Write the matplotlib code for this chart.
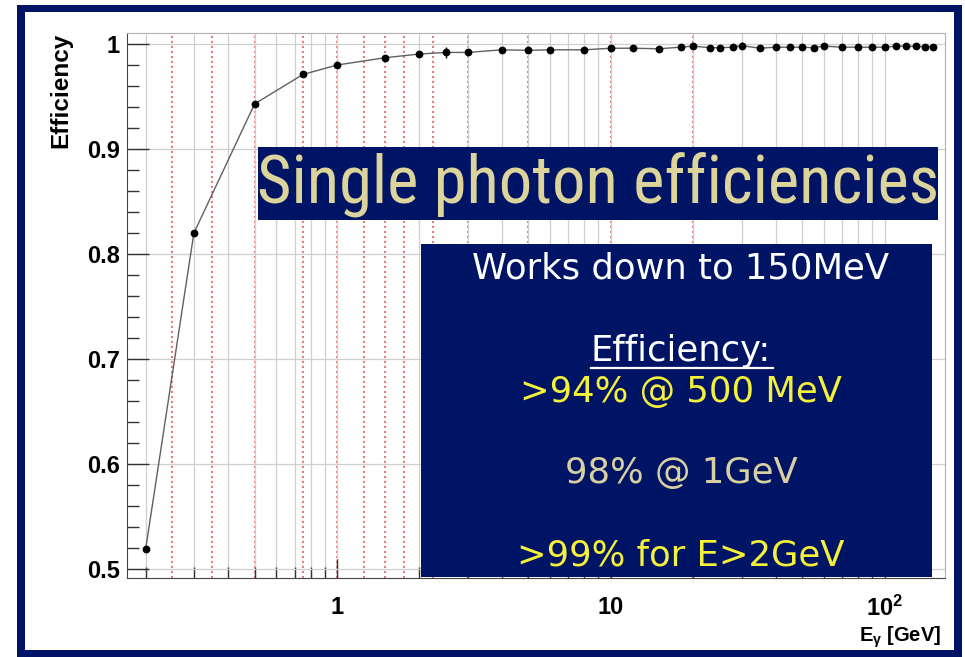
import matplotlib
matplotlib.use('Agg')
import matplotlib.pyplot as plt
from matplotlib import font_manager
from matplotlib.patches import Rectangle
from matplotlib.ticker import LogLocator, NullFormatter
from matplotlib.lines import Line2D

# photon energy [GeV] and single photon efficiency
energy = [0.2, 0.3, 0.5, 0.75, 1, 1.5, 2, 2.5, 3, 4, 5, 6, 8, 10, 12, 15, 18, 20,
          23, 25, 28, 30, 35, 40, 45, 50, 55, 60, 70, 80, 90, 100, 110, 120, 130, 140, 150]
efficiency = [0.519, 0.820, 0.943, 0.971, 0.980, 0.987, 0.9905, 0.992, 0.992, 0.9945,
              0.994, 0.9945, 0.9945, 0.996, 0.996, 0.9955, 0.997, 0.998,
              0.9965, 0.9965, 0.997, 0.9985, 0.996, 0.997, 0.997, 0.997, 0.9965, 0.998,
              0.997, 0.997, 0.997, 0.997, 0.998, 0.9978, 0.9978, 0.9975, 0.9975]
eff_err = [0.002, 0.003, 0.002, 0.002, 0.002, 0.002, 0.002, 0.005, 0.002, 0.002,
           0.002, 0.002, 0.002, 0.002, 0.002, 0.002, 0.002, 0.002,
           0.002, 0.002, 0.002, 0.003, 0.002, 0.002, 0.002, 0.002, 0.002, 0.002,
           0.002, 0.002, 0.002, 0.002, 0.002, 0.003, 0.002, 0.003, 0.002]

red_lines = [0.25, 0.35, 0.5, 0.75, 1, 1.25, 1.5, 1.75, 2.25, 3, 5, 10, 20]

y_ticks = [0.5, 0.6, 0.7, 0.8, 0.9, 1.0]
y_tick_labels = ['0.5', '0.6', '0.7', '0.8', '0.9', '1']
x_ticks = [1, 10, 100]
x_tick_labels = ['1', '10', r'$\mathbf{10^{2}}$']

title = 'Single photon efficiencies'
box_lines = ['Works down to 150MeV', 'Efficiency:', '>94% @ 500 MeV', '98% @ 1GeV', '>99% for E>2GeV']

plt.rcParams['mathtext.fontset'] = 'custom'
plt.rcParams['mathtext.rm'] = 'Liberation Sans'
plt.rcParams['mathtext.bf'] = 'Liberation Sans:bold'
plt.rcParams['mathtext.it'] = 'Liberation Sans:bold'

# a narrow sans fits the banner best, if one is around
names = {f.name for f in font_manager.fontManager.ttflist}
title_font, title_size = 'Liberation Sans', 43
for cand, size in [('Liberation Sans Narrow', 50), ('Roboto Condensed', 48)]:
    if cand in names:
        title_font, title_size = cand, size
        break

W, H = 965, 657
navy = '#001466'

fig = plt.figure(figsize=(W / 100, H / 100), dpi=100)
fig.patch.set_facecolor('white')


def box(x0, y0, x1, y1, color, z=10):
    # rectangle given in picture pixels (y down)
    fig.add_artist(Rectangle((x0 / W, 1 - y1 / H), (x1 - x0) / W, (y1 - y0) / H,
                             transform=fig.transFigure, facecolor=color,
                             edgecolor='none', zorder=z))


ax = fig.add_axes([127 / W, 1 - 578 / H, (945 - 127) / W, (578 - 33) / H])
ax.set_xscale('log')
ax.set_xlim(0.171, 166)
ax.set_ylim(0.4917, 1.0105)

# grid
ax.grid(True, which='both', axis='x', color='#cfcfcf', lw=0.9, zorder=0)
ax.grid(True, which='major', axis='y', color='#cfcfcf', lw=0.9, zorder=0)
for xv in red_lines:
    ax.axvline(xv, color='#e05050', ls=(0, (1, 1.4)), lw=1.5, alpha=0.75, zorder=1)

ax.plot(energy, efficiency, color='#606060', lw=1.0, zorder=3)
ax.errorbar(energy, efficiency, yerr=eff_err, fmt='o', color='black', ms=4.6,
            elinewidth=1.0, capsize=0, zorder=4)

ax.set_yticks(y_ticks)
ax.set_yticklabels(y_tick_labels)
ax.set_yticks([0.5 + 0.02 * i for i in range(26)], minor=True)
ax.set_xticks(x_ticks)
ax.set_xticklabels(x_tick_labels)
ax.xaxis.set_minor_locator(LogLocator(base=10, subs=range(2, 10), numticks=20))
ax.xaxis.set_minor_formatter(NullFormatter())

ax.tick_params(axis='y', which='major', direction='in', length=16, width=1, color='#333333',
               pad=5, labelsize=17)
ax.tick_params(axis='y', which='minor', direction='in', length=8.5, width=1, color='#333333')
ax.tick_params(axis='x', which='major', direction='in', length=14, width=1, color='#333333',
               pad=13, labelsize=17)
ax.tick_params(axis='x', which='minor', direction='in', length=8, width=1, color='#333333')
for lab in ax.get_xticklabels() + ax.get_yticklabels():
    lab.set_fontfamily('Liberation Sans')
    lab.set_fontweight('bold')

for side in ['left', 'bottom']:
    ax.spines[side].set_color('#444444')
for side in ['top', 'right']:
    ax.spines[side].set_color('#b0b0b0')

fig.text(61 / W, 1 - 33 / H, 'Efficiency', rotation=90, ha='center', va='top',
         fontsize=17.5, fontweight='bold', family='Liberation Sans')
fig.text(941 / W, 1 - 637 / H, r'E$_{\gamma}$ [GeV]', ha='right', va='center',
         fontsize=14.5, fontweight='bold', family='Liberation Sans')

# outer navy frame
box(17, 5, 25, 657, navy)
box(17, 5, 962, 12, navy)
box(954, 5, 962, 657, navy)
box(17, 650, 962, 657, navy)

# title banner
box(258, 147, 938, 220, navy, z=20)
fig.text(598 / W, 1 - 204 / H, title, ha='center', va='baseline', color='#ddd49c',
         fontsize=title_size, family=title_font, zorder=21)

# summary box
box(421, 244, 932, 577, navy, z=20)
text_colors = ['white', 'white', '#f5f03a', '#d8d0a0', '#f5f03a']
baselines = [279, 361, 402, 483, 565]
for txt, col, yb in zip(box_lines, text_colors, baselines):
    fig.text(681 / W, 1 - yb / H, txt, ha='center', va='baseline', color=col,
             fontsize=25.5, family='DejaVu Sans', zorder=21)
fig.add_artist(Line2D([591 / W, 773 / W], [1 - 368 / H, 1 - 368 / H], transform=fig.transFigure,
                      color='white', lw=1.6, zorder=21))

fig.savefig('out.png', dpi=100)
